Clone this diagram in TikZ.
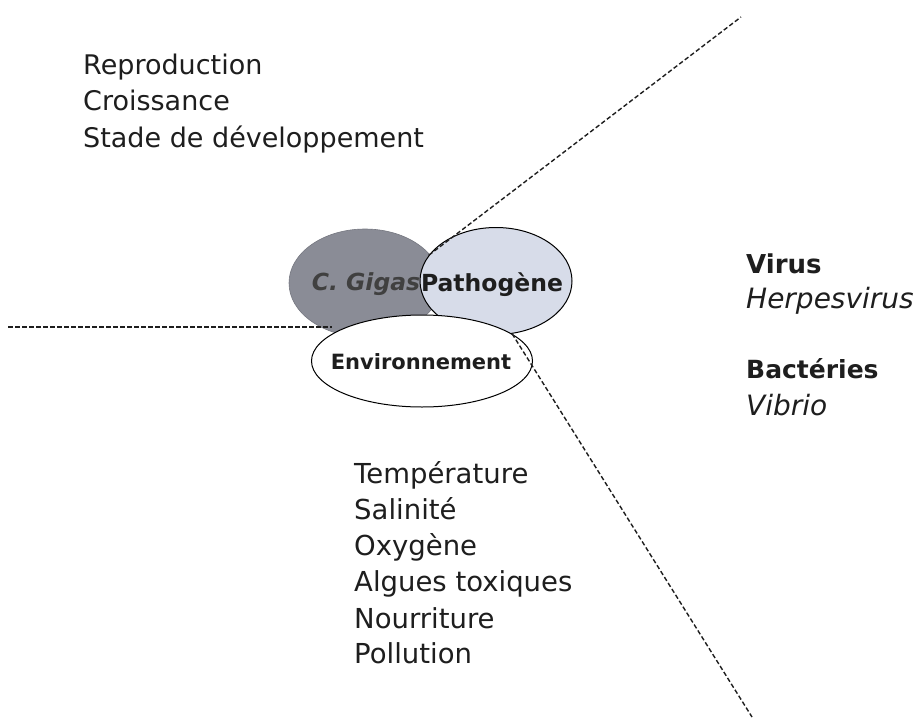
\documentclass[tikz,border=0pt]{standalone}
\usepackage{fontspec}
\setmainfont{DejaVu Sans}
\usetikzlibrary{shapes.geometric}
\definecolor{gigasgray}{HTML}{8A8C96}
\definecolor{pathblue}{HTML}{D7DCE9}
\definecolor{ink}{HTML}{1E1E1E}
\begin{document}
\begin{tikzpicture}[x=1pt,y=-1pt,
  txt/.style={anchor=base west, inner sep=0pt, text=ink},
  blob/.style={ellipse, inner sep=0pt},
  blabel/.style={inner sep=0pt, text=ink},
  guide/.style={draw=ink, dash pattern=on 4.5pt off 2.5pt, line width=1.4pt}
]
\useasboundingbox (0,0) rectangle (923,720);
\fill[white] (0,0) rectangle (923,720);

% ellipses
\node[blob, fill=gigasgray, draw=gigasgray!85!black, line width=0.6pt, minimum width=152, minimum height=108] (gigas) at (365,283) {};
\node[blabel, text=black!75, font=\fontsize{23.5}{27}\selectfont\bfseries\itshape] (gigaslbl) at (366,284) {C.\ Gigas};
\node[blob, fill=pathblue, draw=black, line width=1pt, minimum width=152, minimum height=107] (patho) at (496,281) {};
\node[blabel, font=\fontsize{23.5}{27}\selectfont\bfseries] (patholbl) at (492,285) {Pathogène};
\node[blob, fill=white, draw=black, line width=1pt, minimum width=221, minimum height=92] (env) at (422,361) {};
\node[blabel, font=\fontsize{21}{25}\selectfont\bfseries] (envlbl) at (421,362) {Environnement};

% dashed guides
\coordinate (ne) at (741,17);
\coordinate (w) at (8,327);
\coordinate (wend) at (332,327);
\coordinate (se) at (752,717);
\draw[guide] (patho.159) -- (ne);
\draw[guide] (w) -- (wend);
\draw[guide] (patho.-73) -- (se);

% host factors
\node[txt, font=\fontsize{27}{30}\selectfont] (t1) at (83,74) {Reproduction};
\node[txt, font=\fontsize{27}{30}\selectfont] (t2) at (83,110) {Croissance};
\node[txt, font=\fontsize{27}{30}\selectfont] (t3) at (83,147) {Stade de développement};

% pathogens
\node[txt, font=\fontsize{26}{30}\selectfont\bfseries] (p1) at (746,273) {Virus};
\node[txt, font=\fontsize{28}{30}\selectfont\itshape] (p2) at (746,308) {Herpesvirus};
\node[txt, font=\fontsize{25}{30}\selectfont\bfseries] (p3) at (746,378) {Bactéries};
\node[txt, font=\fontsize{28}{30}\selectfont\itshape] (p4) at (746,415) {Vibrio};

% environment
\node[txt, font=\fontsize{27.5}{30}\selectfont] (e1) at (354,483) {Température};
\node[txt, font=\fontsize{27.5}{30}\selectfont] (e2) at (354,519) {Salinité};
\node[txt, font=\fontsize{27.5}{30}\selectfont] (e3) at (354,555) {Oxygène};
\node[txt, font=\fontsize{27.5}{30}\selectfont] (e4) at (354,591) {Algues toxiques};
\node[txt, font=\fontsize{27.5}{30}\selectfont] (e5) at (354,628) {Nourriture};
\node[txt, font=\fontsize{27.5}{30}\selectfont] (e6) at (354,663) {Pollution};
\end{tikzpicture}
\end{document}
